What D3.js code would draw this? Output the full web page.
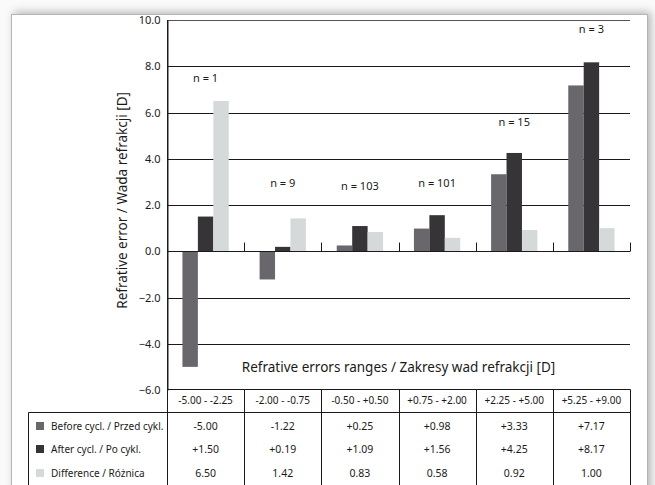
<!DOCTYPE html>
<html>
<head>
<meta charset="utf-8">
<script src="https://cdn.jsdelivr.net/npm/d3@7"></script>
<style>
  body { margin: 0; background: #f4f4f4; }
  svg { display: block; }
</style>
</head>
<body>
<svg id="svg" width="655" height="485"></svg>
<script>
var ranges = ["-5.00 - -2.25", "-2.00 - -0.75", "-0.50 - +0.50", "+0.75 - +2.00", "+2.25 - +5.00", "+5.25 - +9.00"];
var beforeVals = [-5.00, -1.22, 0.25, 0.98, 3.33, 7.17];
var afterVals = [1.50, 0.19, 1.09, 1.56, 4.25, 8.17];
var diffVals = [6.50, 1.42, 0.83, 0.58, 0.92, 1.00];
var beforeText = ["-5.00", "-1.22", "+0.25", "+0.98", "+3.33", "+7.17"];
var afterText = ["+1.50", "+0.19", "+1.09", "+1.56", "+4.25", "+8.17"];
var diffText = ["6.50", "1.42", "0.83", "0.58", "0.92", "1.00"];
var nLabels = ["n = 1", "n = 9", "n = 103", "n = 101", "n = 15", "n = 3"];
var nLabelY = [7.3, 2.8, 2.65, 2.8, 5.4, 9.45];
var seriesNames = ["Before cycl. / Przed cykl.", "After cycl. / Po cykl.", "Difference / Różnica"];
var yTicks = [10, 8, 6, 4, 2, 0, -2, -4, -6];

var colors = ["#69676c", "#363437", "#d6d9da"];
var font = "'Noto Sans', 'Open Sans', sans-serif";

var svg = d3.select("svg");

// card with shadow
var defs = svg.append("defs");
var f = defs.append("filter").attr("id", "shadow").attr("x", "-10%").attr("y", "-10%").attr("width", "120%").attr("height", "120%");
f.append("feDropShadow").attr("dx", 3).attr("dy", -2).attr("stdDeviation", 4).attr("flood-color", "#000").attr("flood-opacity", 0.28);

svg.append("rect").attr("x", 0).attr("y", 0).attr("width", 655).attr("height", 485).attr("fill", "#fafafa");
svg.append("rect")
    .attr("x", 11.5).attr("y", 14.5)
    .attr("width", 636).attr("height", 520)
    .attr("fill", "#fff")
    .attr("stroke", "#b5b5b5")
    .attr("filter", "url(#shadow)");

var pLeft = 167, pRight = 630, pTop = 20, pBottom = 390;

var x = d3.scaleBand().domain(ranges).range([pLeft, pRight]).paddingInner(0.4).paddingOuter(0.2);
var xCol = d3.scaleBand().domain(ranges).range([pLeft, pRight]);
var y = d3.scaleLinear().domain([-6, 10]).range([pBottom, pTop]);
var xs = d3.scaleBand().domain([0, 1, 2]).range([0, x.bandwidth()]);

// gridlines
svg.append("g").selectAll("line")
    .data(yTicks.filter(function (d) { return d !== -6; }))
    .enter().append("line")
    .attr("x1", pLeft).attr("x2", pRight)
    .attr("y1", function (d) { return Math.round(y(d)) + 0.5; })
    .attr("y2", function (d) { return Math.round(y(d)) + 0.5; })
    .attr("stroke", function (d) { return d === 10 ? "#555" : "#1a1a1a"; })
    .attr("stroke-width", 1);

// y axis
var yAxis = d3.axisLeft(y).tickValues(yTicks).tickSize(0).tickPadding(7).tickFormat(d3.format(".1f"));
var gy = svg.append("g").attr("transform", "translate(" + (pLeft + 0.5) + ",0)").call(yAxis);
gy.select(".domain").attr("stroke", "#1a1a1a");
gy.selectAll("text").style("font-family", font).style("font-size", "11px").attr("fill", "#1a1a1a");

// bars
var series = [beforeVals, afterVals, diffVals];
series.forEach(function (vals, s) {
    svg.append("g").selectAll("rect")
        .data(vals)
        .enter().append("rect")
        .attr("x", function (d, i) { return x(ranges[i]) + xs(s); })
        .attr("width", xs.bandwidth())
        .attr("y", function (d) { return y(Math.max(0, d)); })
        .attr("height", function (d) { return Math.abs(y(d) - y(0)); })
        .attr("fill", colors[s]);
});

// zero line with category ticks
var zy = Math.round(y(0)) + 0.5;
svg.append("line").attr("x1", pLeft).attr("x2", pRight).attr("y1", zy).attr("y2", zy).attr("stroke", "#1a1a1a");
svg.append("g").selectAll("line")
    .data(ranges)
    .enter().append("line")
    .attr("x1", function (d) { return Math.round(xCol(d) + xCol.bandwidth()) + 0.5; })
    .attr("x2", function (d) { return Math.round(xCol(d) + xCol.bandwidth()) + 0.5; })
    .attr("y1", zy).attr("y2", zy - 9)
    .attr("stroke", "#1a1a1a");

// n labels
svg.append("g").selectAll("text")
    .data(nLabels)
    .enter().append("text")
    .attr("x", function (d, i) { return xCol(ranges[i]) + xCol.bandwidth() / 2; })
    .attr("y", function (d, i) { return y(nLabelY[i]); })
    .attr("text-anchor", "middle")
    .style("font-family", font).style("font-size", "11px").attr("fill", "#1a1a1a")
    .text(function (d) { return d; });

// axis titles
svg.append("text")
    .attr("transform", "translate(127," + y(2.2) + ") rotate(-90)")
    .attr("text-anchor", "middle")
    .style("font-family", font).style("font-size", "13.5px").attr("fill", "#1a1a1a")
    .text("Refrative error / Wada refrakcji [D]");

svg.append("text")
    .attr("x", (pLeft + pRight) / 2).attr("y", y(-5.2))
    .attr("text-anchor", "middle")
    .style("font-family", font).style("font-size", "13.5px").attr("fill", "#1a1a1a")
    .text("Refrative errors ranges / Zakresy wad refrakcji [D]");

// table
var tHead = pBottom - 0.5, tBody = 412.5, tLeft = 28.5, tEnd = 500;
var tg = svg.append("g");
tg.append("line").attr("x1", pLeft + 0.5).attr("x2", pRight + 0.5).attr("y1", tHead).attr("y2", tHead).attr("stroke", "#1a1a1a");
tg.append("line").attr("x1", tLeft).attr("x2", pRight + 0.5).attr("y1", tBody).attr("y2", tBody).attr("stroke", "#1a1a1a");
tg.append("line").attr("x1", tLeft).attr("x2", tLeft).attr("y1", tBody).attr("y2", tEnd).attr("stroke", "#1a1a1a");
tg.append("line").attr("x1", pLeft + 0.5).attr("x2", pLeft + 0.5).attr("y1", pTop).attr("y2", tEnd).attr("stroke", "#1a1a1a");
tg.selectAll(".col")
    .data(ranges)
    .enter().append("line")
    .attr("x1", function (d) { return Math.round(xCol(d) + xCol.bandwidth()) + 0.5; })
    .attr("x2", function (d) { return Math.round(xCol(d) + xCol.bandwidth()) + 0.5; })
    .attr("y1", tHead).attr("y2", tEnd)
    .attr("stroke", "#1a1a1a");

tg.selectAll(".hd")
    .data(ranges)
    .enter().append("text")
    .attr("x", function (d) { return xCol(d) + xCol.bandwidth() / 2; })
    .attr("y", 404)
    .attr("text-anchor", "middle")
    .style("font-family", font).style("font-size", "10px").attr("fill", "#1a1a1a")
    .text(function (d) { return d; });

var rowY = [430, 453, 477];
var rowText = [beforeText, afterText, diffText];
rowText.forEach(function (vals, r) {
    tg.append("rect").attr("x", 36).attr("y", rowY[r] - 8).attr("width", 8).attr("height", 8).attr("fill", colors[r]);
    tg.append("text").attr("x", 51).attr("y", rowY[r])
        .style("font-family", font).style("font-size", "10px").attr("fill", "#1a1a1a")
        .text(seriesNames[r]);
    tg.append("g").selectAll("text")
        .data(vals)
        .enter().append("text")
        .attr("x", function (d, i) { return xCol(ranges[i]) + xCol.bandwidth() / 2; })
        .attr("y", rowY[r])
        .attr("text-anchor", "middle")
        .style("font-family", font).style("font-size", "10.5px").attr("fill", "#1a1a1a")
        .text(function (d) { return d; });
});
</script>
</body>
</html>
